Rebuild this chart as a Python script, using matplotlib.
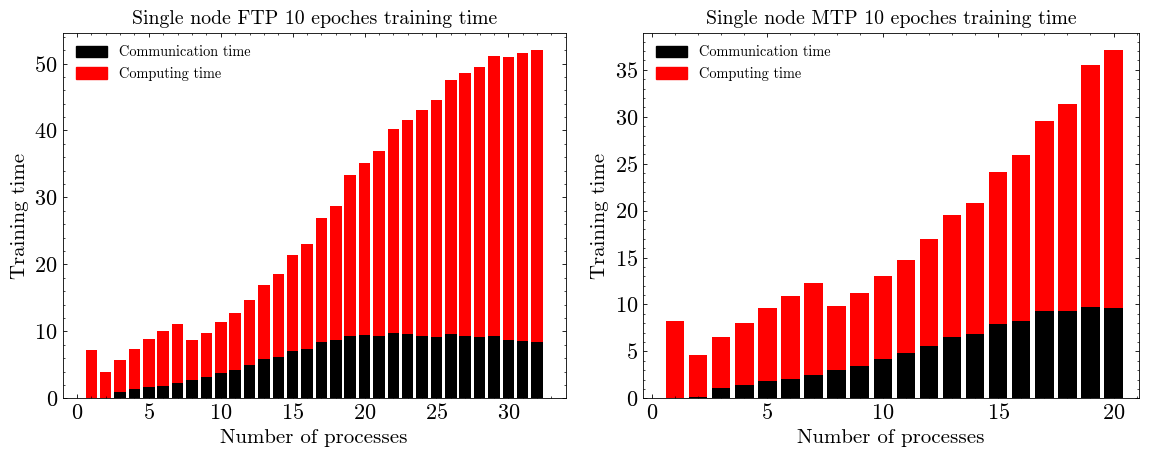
import matplotlib
matplotlib.use("Agg")
import matplotlib.pyplot as plt
from matplotlib.patches import Patch
from matplotlib.ticker import AutoMinorLocator

# FTP run: 1..32 processes
ftp_procs = list(range(1, 33))
ftp_total = [7.2, 3.9, 5.7, 7.4, 8.9, 10.0, 11.1, 8.7, 9.75, 11.4, 12.7, 14.7,
             16.9, 18.6, 21.4, 23.0, 26.9, 28.7, 33.3, 35.1, 36.9, 40.2, 41.5, 43.0,
             44.5, 47.5, 48.6, 49.5, 51.1, 50.9, 51.5, 52.0]
ftp_comm = [0.0, 0.0, 1.0, 1.4, 1.7, 1.8, 2.3, 2.7, 3.2, 3.8, 4.2, 5.0,
            5.9, 6.2, 7.1, 7.4, 8.4, 8.7, 9.3, 9.45, 9.3, 9.75, 9.6, 9.3,
            9.15, 9.6, 9.3, 9.15, 9.3, 8.7, 8.55, 8.4]

# MTP run: 1..20 processes
mtp_procs = list(range(1, 21))
mtp_total = [8.23, 4.6, 6.5, 8.0, 9.6, 10.9, 12.3, 9.8, 11.2, 13.0,
             14.7, 16.95, 19.5, 20.8, 24.1, 25.9, 29.6, 31.4, 35.5, 37.1]
mtp_comm = [0.0, 0.14, 1.1, 1.4, 1.85, 2.05, 2.5, 3.0, 3.45, 4.2,
            4.8, 5.55, 6.5, 6.85, 7.9, 8.2, 9.3, 9.3, 9.7, 9.6]

plt.rcParams.update({
    "font.family": "cmr10",
    "mathtext.fontset": "cm",
    "axes.unicode_minus": False,
    "axes.formatter.use_mathtext": True,
    "xtick.direction": "in",
    "ytick.direction": "in",
    "xtick.top": True,
    "ytick.right": True,
    "xtick.major.size": 3,
    "xtick.minor.size": 1.5,
    "ytick.major.size": 3,
    "ytick.minor.size": 1.5,
    "axes.linewidth": 0.6,
    "xtick.major.width": 0.6,
    "ytick.major.width": 0.6,
    "xtick.minor.width": 0.5,
    "ytick.minor.width": 0.5,
})


def draw(ax, procs, total, comm, title):
    compute = [t - c for t, c in zip(total, comm)]
    ax.bar(procs, comm, width=0.8, color="black")
    ax.bar(procs, compute, width=0.8, bottom=comm, color="red")
    ax.set_title(title, fontsize=14.3)
    ax.set_xlabel("Number of processes", fontsize=15)
    ax.set_ylabel("Training time", fontsize=15)
    ax.tick_params(labelsize=16)
    ax.xaxis.set_minor_locator(AutoMinorLocator())
    ax.yaxis.set_minor_locator(AutoMinorLocator())
    handles = [Patch(color="black", label="Communication time"),
               Patch(color="red", label="Computing time")]
    ax.legend(handles=handles, loc="upper left", frameon=False, fontsize=10.3,
              handlelength=2.2, handleheight=0.9)


fig = plt.figure(figsize=(11.55, 4.53), dpi=100)
ax1 = fig.add_axes([0.0543, 0.1207, 0.4355, 0.8071])
ax2 = fig.add_axes([0.5565, 0.1207, 0.4296, 0.8071])

draw(ax1, ftp_procs, ftp_total, ftp_comm, "Single node FTP 10 epoches training time")
draw(ax2, mtp_procs, mtp_total, mtp_comm, "Single node MTP 10 epoches training time")
ax2.set_xlim(-0.4, 21.1)

fig.savefig("out.png", dpi=100)
